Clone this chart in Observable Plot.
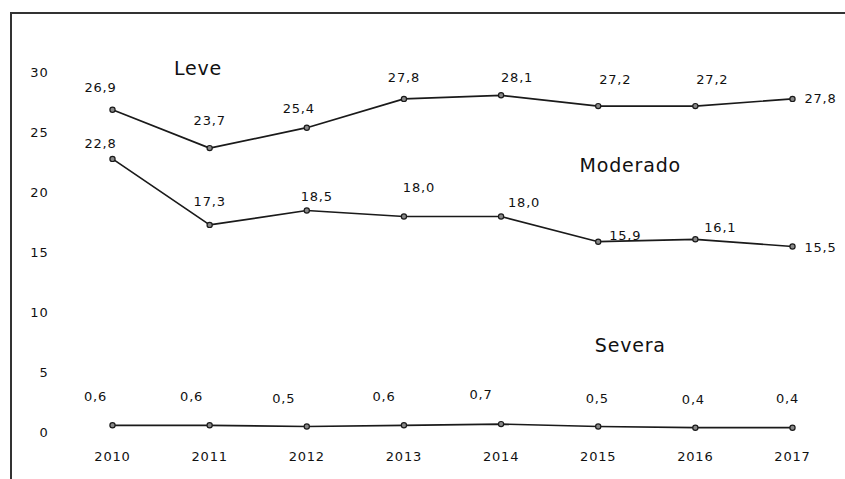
<!DOCTYPE html>
<html>
<head>
<meta charset="utf-8">
<script src="https://cdn.jsdelivr.net/npm/d3@7"></script>
<script src="https://cdn.jsdelivr.net/npm/@observablehq/plot@0.6"></script>
<style>
  html, body { margin: 0; padding: 0; background: #fff; }
  #wrap { position: relative; width: 845px; height: 479px; overflow: hidden; }
  #frame { position: absolute; left: 10px; top: 12px; width: 900px; height: 600px;
           border-left: 2px solid #333; border-top: 2px solid #333; pointer-events: none; }
  svg { font-family: "DejaVu Sans", Verdana, sans-serif; }
</style>
</head>
<body>
<div id="wrap"><div id="frame"></div><div id="chart"></div></div>
<script>
const years = [2010, 2011, 2012, 2013, 2014, 2015, 2016, 2017];
const leve = [26.9, 23.7, 25.4, 27.8, 28.1, 27.2, 27.2, 27.8];
const moderado = [22.8, 17.3, 18.5, 18.0, 18.0, 15.9, 16.1, 15.5];
const severa = [0.6, 0.6, 0.5, 0.6, 0.7, 0.5, 0.4, 0.4];
const yTicks = [0, 5, 10, 15, 20, 25, 30];
const seriesNames = ["Leve", "Moderado", "Severa"];

// label offsets (pixels) — styling only
const leveOff = [[-12,-22],[0,-27],[-8,-19],[0,-21],[16,-17],[17,-26],[17,-26],[28,0]];
const modOff  = [[-12,-15],[0,-23],[10,-14],[15,-29],[23,-14],[27,-6],[25,-11],[28,1]];
const sevOff  = [[-17,-28],[-18,-28],[-23,-28],[-20,-28],[-20,-29],[-1,-28],[-2,-28],[-5,-29]];
// series name anchors (data coords)
const nameX = [2010.88, 2015.33, 2015.33];
const nameY = [30.3, 22.25, 7.25];

const fmt = v => v.toFixed(1).replace(".", ",");
const rows = [];
[[leve, leveOff, "Leve"], [moderado, modOff, "Moderado"], [severa, sevOff, "Severa"]].forEach(([vals, off, s]) => {
  vals.forEach((v, i) => rows.push({series: s, year: years[i], value: v, dx: off[i][0], dy: off[i][1]}));
});
const names = seriesNames.map((n, i) => ({name: n, x: nameX[i], y: nameY[i]}));

const chart = Plot.plot({
  width: 845,
  height: 479,
  marginLeft: 112,
  marginRight: 53,
  marginTop: 72,
  marginBottom: 47,
  x: {domain: [2010, 2017]},
  y: {domain: [0, 30]},
  style: {fontFamily: "DejaVu Sans, Verdana, sans-serif", color: "#111", overflow: "visible"},
  marks: [
    Plot.axisY({ticks: yTicks, tickSize: 0, tickPadding: 64, fontSize: 13, label: null, stroke: "none"}),
    Plot.axisX({ticks: years, tickFormat: d => String(d), tickSize: 0, tickPadding: 19, fontSize: 13, label: null}),
    Plot.line(rows, {x: "year", y: "value", z: "series", stroke: "#1a1a1a", strokeWidth: 1.7}),
    Plot.dot(rows, {x: "year", y: "value", r: 2.6, stroke: "#1a1a1a", fill: "#888", strokeWidth: 1.2}),
    ...seriesNames.map(s => Plot.text(rows.filter(d => d.series === s), {
      x: "year", y: "value", text: d => fmt(d.value),
      fontSize: 13, fill: "#111"
    })),
    Plot.text(names, {x: "x", y: "y", text: "name", fontSize: 19, fill: "#111"})
  ]
});
// letter spacing for a wider look like the reference
chart.querySelectorAll("text").forEach(t => t.setAttribute("letter-spacing", "0.8"));
// apply per-label offsets
const textGroups = chart.querySelectorAll("g[aria-label='text']");
for (let k = 0; k < 3; k++) {
  const g = textGroups[k];
  const items = rows.filter(d => d.series === seriesNames[k]);
  g.querySelectorAll("text").forEach((t, i) => {
    const tr = t.getAttribute("transform");
    t.setAttribute("transform", (tr || "") + ` translate(${items[i].dx},${items[i].dy})`);
  });
}
document.getElementById("chart").appendChild(chart);
</script>
</body>
</html>
